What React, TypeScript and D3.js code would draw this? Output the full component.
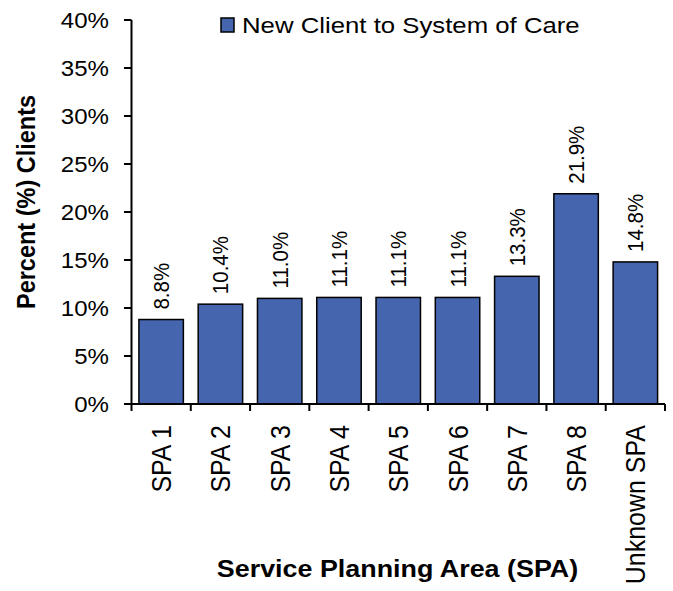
import React from 'react'
import * as d3 from 'd3'

const categories = ['SPA 1', 'SPA 2', 'SPA 3', 'SPA 4', 'SPA 5', 'SPA 6', 'SPA 7', 'SPA 8', 'Unknown SPA']
const values = [8.8, 10.4, 11.0, 11.1, 11.1, 11.1, 13.3, 21.9, 14.8]
const valueLabels = ['8.8%', '10.4%', '11.0%', '11.1%', '11.1%', '11.1%', '13.3%', '21.9%', '14.8%']
const yTicks = [0, 5, 10, 15, 20, 25, 30, 35, 40]
const seriesName = 'New Client to System of Care'

const W = 673
const H = 591
const font = 'Arial, "Liberation Sans", sans-serif'
const fill = '#4565ae'
// the source text is a little wider than it is tall
const SX = 1.12

export default function App() {
  const x = d3.scaleBand().domain(categories).range([131.5, 665]).paddingInner(0.25).paddingOuter(0.125)
  const y = d3.scaleLinear().domain([0, 40]).range([404, 20])

  return (
    <svg width={W} height={H} style={{ position: 'absolute', left: 0, top: 0, background: '#fff' }}>
      {/* legend */}
      <rect x={221} y={18} width={13} height={14} fill={fill} stroke="#000" strokeWidth={1.5} />
      <text transform={`translate(242,32.5) scale(${SX},1)`} fontFamily={font} fontSize={23} fill="#000">
        {seriesName}
      </text>

      {/* bars */}
      {categories.map((c, i) => {
        const cx = x(c)! + x.bandwidth() / 2
        return (
          <g key={c}>
            <rect
              x={x(c)}
              y={y(values[i])}
              width={x.bandwidth()}
              height={y(0) - y(values[i])}
              fill={fill}
              stroke="#000"
              strokeWidth={1.5}
            />
            <text
              transform={`translate(${cx + 8},${y(values[i]) - 10}) scale(${SX},1) rotate(-90)`}
              fontFamily={font}
              fontSize={20.5}
              fill="#000"
            >
              {valueLabels[i]}
            </text>
            <text
              transform={`translate(${cx + 10},${425}) scale(${SX},1) rotate(-90)`}
              textAnchor="end"
              fontFamily={font}
              fontSize={25}
              fill="#000"
            >
              {c}
            </text>
          </g>
        )
      })}

      {/* y axis */}
      <line x1={131.5} x2={131.5} y1={y(40)} y2={y(0)} stroke="#000" strokeWidth={2} />
      {yTicks.map(t => (
        <g key={t}>
          <line x1={124} x2={131.5} y1={y(t)} y2={y(t)} stroke="#000" strokeWidth={2} />
          <text
            transform={`translate(109,${y(t) + 7.5}) scale(${SX},1)`}
            textAnchor="end"
            fontFamily={font}
            fontSize={21.5}
            fill="#000"
          >
            {t}%
          </text>
        </g>
      ))}

      {/* x axis */}
      <line x1={131.5} x2={665} y1={404} y2={404} stroke="#000" strokeWidth={2} />
      {d3.range(categories.length + 1).map(i => {
        const px = 131.5 + i * x.step()
        return <line key={i} x1={px} x2={px} y1={404} y2={411} stroke="#000" strokeWidth={2} />
      })}

      {/* titles */}
      <text
        transform={`translate(397.5,577) scale(${SX},1)`}
        textAnchor="middle"
        fontFamily={font}
        fontSize={24}
        fontWeight="bold"
        fill="#000"
      >
        Service Planning Area (SPA)
      </text>
      <text
        transform={`translate(35,202) scale(${SX},1) rotate(-90)`}
        textAnchor="middle"
        fontFamily={font}
        fontSize={23.5}
        fontWeight="bold"
        fill="#000"
      >
        Percent (%) Clients
      </text>
    </svg>
  )
}
